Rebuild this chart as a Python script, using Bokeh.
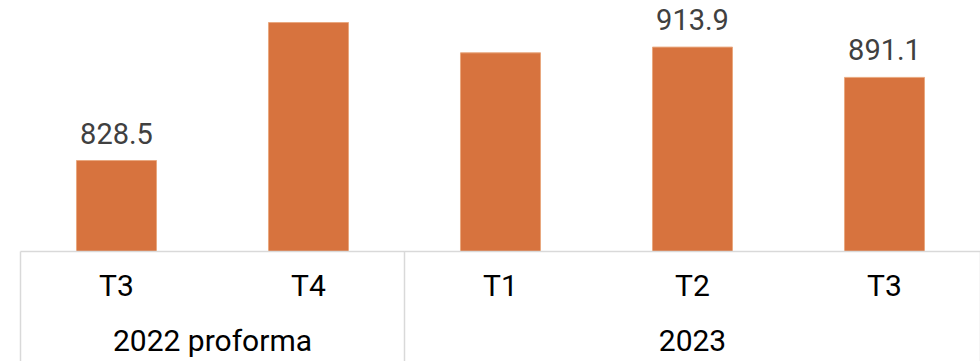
import numpy as np
from bokeh.plotting import figure
from bokeh.models import ColumnDataSource, Range1d, LinearAxis, FixedTicker, LabelSet
from bokeh.core.properties import value
from bokeh.embed import file_html
from bokeh.resources import INLINE

# ---- data ----
quarters = ["T3", "T4", "T1", "T2", "T3"]
values = [828.5, 932.4, 909.6, 913.9, 891.1]
value_labels = ["828.5", "", "", "913.9", "891.1"]
groups = ["2022 proforma", "2023"]
group_sizes = [2, 3]

# ---- layout parameters ----
y_start, y_end = 760, 949
x_end = 5.0
FONT = "Roboto"
BAR_COLOR = "#D7733E"
GRID_GREY = "#D9D9D9"

xs = [float(v) for v in np.arange(len(quarters)) + 0.5]
bounds = [float(b) for b in np.concatenate([[0], np.cumsum(group_sizes)])]
group_centers = [(bounds[i] + bounds[i + 1]) / 2 for i in range(len(groups))]

src = ColumnDataSource(dict(x=xs, top=values, label=value_labels))

p = figure(width=980, height=361, output_backend="svg", toolbar_location=None,
           x_range=Range1d(0, x_end), y_range=Range1d(y_start, y_end),
           min_border_left=20, min_border_right=0, min_border_top=0,
           min_border_bottom=110, x_axis_location=None, y_axis_location=None)
p.outline_line_color = None
p.background_fill_color = "white"
p.border_fill_color = "white"
p.grid.visible = False

p.vbar(x="x", top="top", bottom=y_start, width=0.4167, source=src,
       fill_color=BAR_COLOR, line_color="#E9A87F", line_width=1)

labels = LabelSet(x="x", y="top", text="label", source=src, y_offset=17,
                  text_align="center", text_baseline="alphabetic",
                  text_font=value(FONT), text_font_size="29px",
                  text_color="#404040")
p.add_layout(labels)

# quarter axis with group separators (minor ticks)
ax = LinearAxis(ticker=FixedTicker(ticks=xs, minor_ticks=bounds))
ax.major_label_overrides = {x: q for x, q in zip(xs, quarters)}
ax.axis_line_color = GRID_GREY
ax.axis_line_width = 1.5
ax.major_tick_line_color = None
ax.major_tick_out = 0
ax.major_tick_in = 0
ax.minor_tick_line_color = GRID_GREY
ax.minor_tick_line_width = 1.5
ax.minor_tick_out = 110
ax.minor_tick_in = 0
ax.major_label_text_font = FONT
ax.major_label_text_font_size = "30px"
ax.major_label_text_color = "#000000"
ax.major_label_standoff = -94
p.add_layout(ax, "below")

# group axis
ax2 = LinearAxis(ticker=FixedTicker(ticks=group_centers, minor_ticks=[]))
ax2.major_label_overrides = {x: g for x, g in zip(group_centers, groups)}
ax2.axis_line_color = None
ax2.major_tick_line_color = None
ax2.minor_tick_line_color = None
ax2.major_tick_out = 0
ax2.major_tick_in = 0
ax2.minor_tick_out = 0
ax2.minor_tick_in = 0
ax2.major_label_text_font = FONT
ax2.major_label_text_font_size = "30px"
ax2.major_label_text_color = "#000000"
ax2.major_label_standoff = 17
p.add_layout(ax2, "below")

open("out.html", "w").write(file_html(p, INLINE))
